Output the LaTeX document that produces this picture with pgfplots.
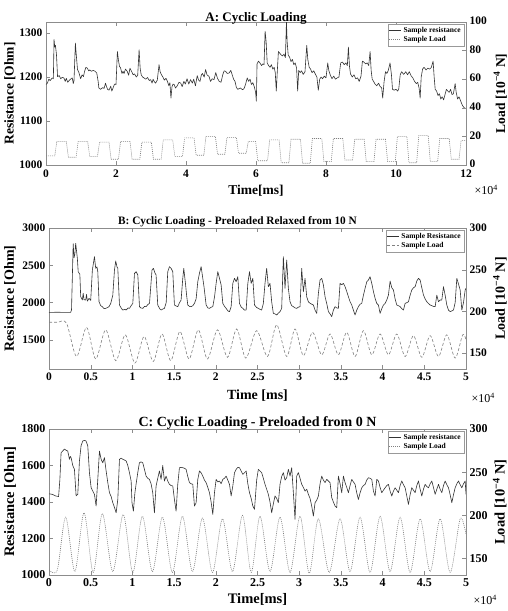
\documentclass[border=0pt]{standalone}
\usepackage{pgfplots}
\pgfplotsset{compat=1.18}
\usepackage{fontspec}
\setmainfont{Liberation Serif}

\pgfplotsset{
  every axis/.append style={
    scale only axis,
    axis line style={black!45},
    tick style={black!45, line width=0.4pt},
    major tick length=4pt,
    tick align=inside,
    /pgf/number format/assume math mode=true,
    /pgf/number format/1000 sep={},
    ticklabel style={font=\bfseries\fontsize{11.5}{12}\selectfont},
  },
  lefty/.style={ylabel style={at={(axis description cs:#1,0.5)}, anchor=north, inner sep=0pt}},
  righty/.style={ylabel style={at={(axis description cs:#1,0.5)}, anchor=south, inner sep=0pt}},
  res/.style={black!80, line width=0.6pt, line join=round},
  ldot/.style={black!50, line width=0.6pt, dash pattern=on 1pt off 1pt},
  ldash/.style={black!50, line width=0.6pt, dash pattern=on 3pt off 2pt},
  leg/.style={legend style={at={(0.995,0.985)}, anchor=north east, draw=black!40,
      font=\bfseries\fontsize{7.5}{8}\selectfont, inner sep=1pt, row sep=-2pt,
      cells={anchor=west}, fill=white}},
}
\pgfplotsset{legend image code/.code={\draw[#1] (0pt,0pt) -- (12pt,0pt);}}

\begin{document}
\begin{tikzpicture}
\useasboundingbox (0,0) rectangle (508pt,-611pt);

% ---------------- A ----------------
\begin{axis}[at={(46pt,-165pt)}, anchor=south west, width=420pt, height=143pt,
  xmin=0, xmax=12, xtick={0,2,4,6,8,10,12}, xticklabel style={yshift=-1.5pt},
  ymin=1000, ymax=1325, ytick={1000,1100,1200,1300}, ytick pos=left,
  title={A: Cyclic Loading}, title style={font=\bfseries\fontsize{13}{14}\selectfont, yshift=-12pt},
  xlabel={Time[ms]}, ylabel={Resistance [Ohm]}, lefty=-0.1,
  label style={font=\bfseries\fontsize{13.5}{14}\selectfont}]
\addplot[res] coordinates {
(0,1183) (0.04,1186) (0.08,1195) (0.12,1192) (0.18,1198) (0.21,1196) (0.23,1285) (0.25,1268) (0.27,1272) (0.30,1250) (0.33,1201) (0.38,1203) (0.42,1196) (0.46,1199) (0.51,1198) (0.55,1190) (0.58,1197) (0.62,1188) (0.66,1192) (0.70,1195) (0.75,1198) (0.78,1185) (0.80,1192) (0.84,1277) (0.86,1255) (0.90,1217) (0.94,1210) (0.99,1196) (1.03,1205) (1.07,1201) (1.10,1212) (1.14,1222) (1.18,1220) (1.22,1214) (1.25,1216) (1.30,1213) (1.35,1215) (1.40,1213) (1.45,1209) (1.49,1190) (1.51,1175) (1.56,1172) (1.62,1176) (1.66,1174) (1.70,1186) (1.73,1178) (1.76,1172) (1.80,1170) (1.85,1179) (1.88,1168) (1.92,1176) (1.96,1184) (2.00,1183) (2.04,1258) (2.07,1238) (2.10,1224) (2.13,1221) (2.17,1208) (2.20,1213) (2.23,1208) (2.27,1218) (2.32,1213) (2.36,1204) (2.40,1220) (2.45,1212) (2.49,1205) (2.53,1207) (2.58,1200) (2.62,1204) (2.66,1262) (2.69,1220) (2.72,1205) (2.76,1200) (2.80,1198) (2.85,1195) (2.90,1199) (2.95,1192) (2.99,1194) (3.03,1186) (3.06,1195) (3.09,1190) (3.13,1186) (3.18,1193) (3.23,1228) (3.26,1212) (3.30,1205) (3.34,1200) (3.38,1193) (3.43,1197) (3.47,1190) (3.51,1180) (3.54,1187) (3.57,1152) (3.60,1178) (3.63,1184) (3.66,1183) (3.70,1175) (3.75,1180) (3.80,1188) (3.85,1186) (3.89,1178) (3.94,1190) (3.98,1184) (4.03,1196) (4.08,1184) (4.13,1194) (4.18,1186) (4.22,1195) (4.27,1180) (4.32,1203) (4.36,1193) (4.40,1190) (4.44,1205) (4.47,1208) (4.52,1200) (4.56,1217) (4.60,1205) (4.66,1201) (4.70,1190) (4.75,1196) (4.80,1194) (4.85,1210) (4.90,1197) (4.95,1190) (5.00,1188) (5.05,1205) (5.09,1214) (5.13,1213) (5.18,1208) (5.23,1209) (5.28,1215) (5.32,1205) (5.36,1195) (5.40,1190) (5.44,1176) (5.48,1172) (5.55,1175) (5.62,1171) (5.66,1174) (5.70,1183) (5.75,1198) (5.79,1190) (5.83,1195) (5.87,1183) (5.91,1187) (5.95,1178) (5.99,1165) (6.01,1145) (6.03,1230) (6.07,1236) (6.11,1232) (6.16,1226) (6.20,1230) (6.23,1228)
(6.26,1304) (6.29,1280) (6.32,1232) (6.36,1226) (6.40,1222) (6.44,1228) (6.48,1218) (6.52,1222) (6.55,1210) (6.58,1168) (6.61,1215) (6.64,1258) (6.68,1254) (6.72,1250) (6.76,1248) (6.80,1252) (6.84,1244) (6.87,1325) (6.89,1280) (6.92,1250) (6.96,1245) (7.00,1235) (7.04,1240) (7.08,1228) (7.12,1232) (7.16,1220) (7.19,1168) (7.22,1215) (7.26,1210) (7.30,1214) (7.35,1206) (7.40,1212) (7.45,1272) (7.48,1240) (7.52,1222) (7.56,1218) (7.60,1210) (7.65,1214) (7.70,1206) (7.74,1200) (7.78,1170) (7.82,1195) (7.86,1200) (7.90,1196) (7.95,1202) (8.00,1198) (8.05,1232) (8.08,1215) (8.12,1205) (8.17,1196) (8.22,1202) (8.27,1195) (8.32,1198) (8.37,1200) (8.42,1232) (8.47,1234) (8.52,1228) (8.57,1232) (8.61,1226) (8.64,1268) (8.67,1225) (8.70,1207) (8.75,1200) (8.80,1205) (8.85,1196) (8.90,1198) (8.95,1190) (9.00,1202) (9.04,1236) (9.08,1234) (9.13,1230) (9.18,1232) (9.22,1226) (9.26,1258) (9.29,1215) (9.32,1195) (9.36,1190) (9.40,1184) (9.45,1180) (9.50,1186) (9.55,1178) (9.59,1176) (9.62,1152) (9.66,1190) (9.70,1212) (9.74,1208) (9.78,1215) (9.83,1232) (9.87,1205) (9.90,1172) (9.95,1170) (10.00,1172) (10.05,1168) (10.08,1174) (10.12,1205) (10.16,1212) (10.22,1206) (10.28,1212) (10.33,1205) (10.38,1212) (10.43,1203) (10.48,1198) (10.53,1190) (10.58,1185) (10.62,1188) (10.66,1175) (10.69,1152) (10.72,1200) (10.76,1218) (10.80,1222) (10.86,1216) (10.91,1220) (10.96,1218) (11.01,1222) (11.06,1236) (11.09,1200) (11.12,1172) (11.16,1168) (11.20,1158) (11.24,1162) (11.28,1150) (11.32,1155) (11.36,1148) (11.40,1160) (11.44,1172) (11.48,1168) (11.52,1165) (11.56,1172) (11.60,1160) (11.64,1162) (11.69,1185) (11.72,1165) (11.76,1150) (11.80,1155) (11.85,1145) (11.90,1135) (11.95,1130) (12.00,1128)
};
\end{axis}
\begin{axis}[at={(46pt,-165pt)}, anchor=south west, width=420pt, height=143pt,
  xmin=0, xmax=12, axis x line=none, axis y line*=right,
  ymin=0, ymax=100, ytick={0,20,40,60,80,100}, yticklabel style={yshift=1pt},
  ylabel={Load [10\textsuperscript{−4} N]}, righty=1.098,
  label style={font=\bfseries\fontsize{13.5}{14}\selectfont}, leg]
\addlegendimage{res}
\addplot[ldot] coordinates {
(0,6.4) (0.25,6.4) (0.31,16.5) (0.58,16.5) (0.64,5.4)
(0.86,5.4) (0.92,16.5) (1.19,16.5) (1.25,6.0)
(1.47,6.0) (1.53,16) (1.80,16) (1.86,4.0)
(2.07,4.0) (2.13,16.5) (2.40,16.5) (2.46,4.0)
(2.68,4.0) (2.74,16) (3.01,16) (3.07,4.0)
(3.29,4.0) (3.35,17.6) (3.62,17.6) (3.68,6.0)
(3.90,6.0) (3.96,19) (4.23,19) (4.29,6.8)
(4.51,6.8) (4.57,20) (4.84,20) (4.90,7.5)
(5.11,7.5) (5.17,19.3) (5.44,19.3) (5.50,8.2)
(5.72,8.2) (5.78,16.5) (5.99,16.5) (6.05,3.0)
(6.33,3.0) (6.39,17.6) (6.66,17.6) (6.72,1.6)
(6.94,1.6) (7.00,18) (7.27,18) (7.33,1.2)
(7.55,1.2) (7.61,18.5) (7.88,18.5) (7.94,2.4)
(8.15,2.4) (8.21,18.5) (8.48,18.5) (8.54,3.5)
(8.76,3.5) (8.82,18) (9.09,18) (9.15,2.4)
(9.37,2.4) (9.43,18) (9.70,18) (9.76,2.4)
(9.98,2.4) (10.04,20) (10.31,20) (10.37,1.6)
(10.59,1.6) (10.65,20.5) (10.92,20.5) (10.98,2.4)
(11.19,2.4) (11.25,18.5) (11.52,18.5) (11.58,4.0)
(11.80,4.0) (11.86,17) (12,17)
};
\legend{Sample resistance, Sample Load}
\end{axis}
\node[anchor=west, font=\fontsize{12}{12}\selectfont] at (471pt,-190pt) {×10\textsuperscript{4}};

% ---------------- B ----------------
\begin{axis}[at={(49pt,-369pt)}, anchor=south west, width=417pt, height=141pt,
  xmin=0, xmax=5, xtick={0,0.5,1,1.5,2,2.5,3,3.5,4,4.5,5},
  ymin=1112, ymax=3000, ytick={1500,2000,2500,3000}, ytick pos=left,
  title={B: Cyclic Loading - Preloaded Relaxed from 10 N},
  title style={font=\bfseries\fontsize{11.3}{12}\selectfont, xshift=-20pt, yshift=-9pt},
  xlabel={Time [ms]}, xlabel style={yshift=-3pt}, ylabel={Resistance [Ohm]}, lefty=-0.108,
  label style={font=\bfseries\fontsize{14}{15}\selectfont}]
\addplot[res] coordinates {
(0,1870) (0.10,1872) (0.20,1870) (0.26,1870) (0.27,1905) (0.29,2790) (0.30,2600) (0.31,2650) (0.32,2795) (0.34,2594) (0.35,2415) (0.37,2380) (0.38,2080) (0.40,2036) (0.41,2125) (0.42,2040) (0.44,2036) (0.45,2110) (0.46,2020) (0.48,2058) (0.50,2030) (0.52,2438) (0.545,2616) (0.56,2460) (0.575,2480) (0.585,2415) (0.60,2013) (0.62,1960) (0.64,1946) (0.66,1920) (0.68,1924) (0.70,1935) (0.72,1947) (0.74,1990) (0.765,2100) (0.785,2438) (0.80,2558) (0.815,2480) (0.825,2460) (0.845,1969) (0.87,1920) (0.885,1902) (0.91,1910) (0.925,1902) (0.95,1930) (0.965,1924) (0.985,1960) (1.005,1991) (1.025,2393) (1.045,2415) (1.065,2371) (1.085,1947) (1.10,1930) (1.125,1924) (1.145,1950) (1.165,1947) (1.185,1975) (1.205,1991) (1.235,2437) (1.252,2460) (1.27,2400) (1.284,2371) (1.304,1969) (1.33,1915) (1.344,1902) (1.365,1915) (1.384,1924) (1.405,2000) (1.424,2415) (1.444,2482) (1.464,2460) (1.484,2415) (1.504,1969) (1.525,1955) (1.544,1947) (1.565,2000) (1.584,2036) (1.604,2326) (1.616,2460) (1.636,2259) (1.65,2100) (1.664,1969) (1.685,1950) (1.704,1947) (1.725,1960) (1.744,1991) (1.764,2050) (1.784,2281) (1.805,2400) (1.824,2482) (1.844,2326) (1.86,2200) (1.884,1969) (1.905,1930) (1.924,1924) (1.945,1940) (1.964,1947) (1.985,2080) (2.004,2259) (2.024,2415) (2.044,2326) (2.064,2237) (2.084,1991) (2.105,1950) (2.124,1924) (2.145,1890) (2.164,1880) (2.184,1947) (2.204,2259) (2.224,2326) (2.244,2281) (2.264,2348) (2.284,1991) (2.305,1940) (2.324,1924) (2.344,1900) (2.364,1902) (2.384,2259) (2.404,2415) (2.424,2259) (2.444,2326) (2.464,1969)
(2.49,1935) (2.51,1924) (2.53,1910) (2.55,1902) (2.57,1990) (2.59,2259) (2.61,2460) (2.63,2214) (2.65,2259) (2.67,2013) (2.69,1857) (2.71,1850) (2.73,1835) (2.75,1860) (2.77,1880) (2.79,1924) (2.81,2616) (2.83,2192) (2.85,2571) (2.87,2192) (2.89,2013) (2.91,1960) (2.93,1947) (2.95,1930) (2.97,1924) (2.99,1940) (3.01,1947) (3.03,2460) (3.05,2147) (3.07,2326) (3.09,2080) (3.11,2013) (3.13,1991) (3.15,1980) (3.17,1969) (3.19,1900) (3.21,1857) (3.23,2125) (3.25,2304) (3.27,2326) (3.29,2237) (3.31,2080) (3.33,1990) (3.35,1880) (3.37,1850) (3.39,1813) (3.41,1900) (3.43,1947) (3.45,1930) (3.47,1924) (3.49,2259) (3.51,2240) (3.53,2259) (3.55,2214) (3.57,2150) (3.59,2080) (3.61,2013) (3.63,1969) (3.65,1900) (3.67,1835) (3.69,1900) (3.71,1947) (3.73,1980) (3.75,1991) (3.77,2100) (3.79,2192) (3.81,2280) (3.83,2304) (3.85,2348) (3.87,2259) (3.89,2150) (3.91,2058) (3.93,1990) (3.95,1969) (3.97,1857) (3.99,1920) (4.01,1969) (4.03,1990) (4.05,2036) (4.07,2103) (4.09,2290) (4.11,2200) (4.13,2170) (4.15,2050) (4.17,1969) (4.19,1960) (4.21,1947) (4.23,1920) (4.25,1902) (4.27,1991) (4.29,2000) (4.31,2013) (4.33,2100) (4.35,2170) (4.37,2200) (4.39,2214) (4.41,2290) (4.43,2326) (4.45,2304) (4.47,2200) (4.49,2103) (4.51,2050) (4.53,2013) (4.55,1990) (4.57,1969) (4.59,1960) (4.61,1950) (4.63,1947) (4.65,2100) (4.67,2013) (4.69,2036) (4.71,2036) (4.73,2214) (4.75,2100) (4.77,1969) (4.79,1900) (4.81,1880) (4.83,1890) (4.85,1902) (4.87,2000) (4.89,2326) (4.91,2250) (4.93,2170) (4.95,1902) (4.97,2000) (4.99,2170) (5.00,2192)
};
\end{axis}
\begin{axis}[at={(49pt,-369pt)}, anchor=south west, width=417pt, height=141pt,
  xmin=0, xmax=5, axis x line=none, axis y line*=right,
  ymin=131, ymax=300, ytick={150,200,250,300},
  ylabel={Load [10\textsuperscript{−4} N]}, righty=1.098,
  label style={font=\bfseries\fontsize{14}{15}\selectfont}, leg]
\addlegendimage{res}
\addplot[ldash, smooth] coordinates {
(0,187) (0.10,187) (0.21,186) (0.33,146) (0.45,181) (0.56,143) (0.68,178) (0.80,141) (0.915,172) (1.03,138) (1.14,170) (1.25,140) (1.355,173) (1.46,141) (1.57,176) (1.68,143) (1.79,178) (1.90,143) (2.02,178) (2.14,145) (2.25,179) (2.36,144) (2.49,177) (2.62,146) (2.73,184) (2.85,146) (2.95,179) (3.05,147) (3.16,175) (3.27,148) (3.37,173) (3.47,148) (3.57,175) (3.67,146) (3.77,177) (3.87,148) (3.97,173) (4.07,148) (4.17,173) (4.27,146) (4.37,171) (4.47,145) (4.57,171) (4.67,146) (4.77,172) (4.87,144) (4.96,172) (5.0,166)
};
\legend{Sample Resistance, Sample Load}
\end{axis}
\node[anchor=west, font=\fontsize{12}{12}\selectfont] at (468pt,-398pt) {×10\textsuperscript{4}};

% ---------------- C ----------------
\begin{axis}[at={(49pt,-575pt)}, anchor=south west, width=417pt, height=146pt,
  xmin=0, xmax=5, xtick={0,0.5,1,1.5,2,2.5,3,3.5,4,4.5,5},
  ymin=1000, ymax=1800, ytick={1000,1200,1400,1600,1800}, ytick pos=left,
  title={C: Cyclic Loading - Preloaded from 0 N},
  title style={font=\bfseries\fontsize{14}{15}\selectfont, yshift=-10pt},
  xlabel={Time[ms]}, ylabel={Resistance [Ohm]}, lefty=-0.108,
  label style={font=\bfseries\fontsize{14.5}{15}\selectfont},
  ticklabel style={font=\bfseries\fontsize{12}{13}\selectfont}]
\addplot[res] coordinates {
(0,1445) (0.04,1442) (0.08,1433) (0.115,1430) (0.13,1520) (0.145,1670) (0.165,1680) (0.185,1690) (0.20,1685) (0.225,1679) (0.245,1634) (0.255,1650) (0.265,1643) (0.285,1600) (0.305,1579) (0.325,1434) (0.345,1442) (0.365,1625) (0.385,1710) (0.405,1734) (0.425,1738) (0.445,1734) (0.465,1707) (0.485,1561) (0.505,1479) (0.525,1460) (0.545,1442) (0.565,1378) (0.585,1524) (0.605,1679) (0.625,1634) (0.645,1615) (0.665,1643) (0.685,1570) (0.705,1506) (0.725,1451) (0.745,1430) (0.765,1396) (0.785,1370) (0.805,1341) (0.825,1414) (0.845,1634) (0.865,1640) (0.885,1634) (0.905,1630) (0.925,1625) (0.945,1600) (0.965,1560) (0.985,1515) (0.995,1396) (1.012,1350) (1.03,1450) (1.044,1497) (1.064,1560) (1.084,1615) (1.104,1620) (1.124,1615) (1.144,1580) (1.164,1542) (1.184,1530) (1.204,1524) (1.224,1500) (1.244,1451) (1.264,1341) (1.284,1488) (1.304,1530) (1.324,1570) (1.344,1524) (1.364,1600) (1.384,1515) (1.404,1542) (1.424,1515) (1.444,1497) (1.464,1490) (1.484,1488) (1.504,1414) (1.524,1350) (1.544,1497) (1.564,1588) (1.584,1590) (1.604,1588) (1.624,1585) (1.644,1579) (1.664,1540) (1.684,1506) (1.704,1500) (1.724,1497) (1.744,1378) (1.764,1396) (1.784,1524) (1.804,1570) (1.824,1560) (1.844,1542) (1.864,1520) (1.884,1506) (1.904,1480) (1.924,1451) (1.944,1400) (1.964,1332) (1.984,1450) (2.004,1524) (2.024,1510) (2.044,1515) (2.064,1500) (2.084,1524) (2.104,1530) (2.124,1542) (2.144,1520) (2.164,1497) (2.184,1433) (2.204,1488) (2.224,1560) (2.244,1579) (2.264,1590) (2.284,1588) (2.304,1570) (2.324,1551) (2.344,1560) (2.364,1570) (2.384,1500) (2.404,1451) (2.424,1420) (2.444,1378) (2.464,1360) (2.49,1520)
(2.51,1579) (2.53,1570) (2.55,1561) (2.57,1530) (2.59,1497) (2.61,1470) (2.63,1442) (2.65,1400) (2.67,1341) (2.69,1390) (2.71,1433) (2.73,1420) (2.75,1396) (2.77,1497) (2.79,1540) (2.81,1561) (2.83,1520) (2.85,1533) (2.87,1579) (2.89,1542) (2.91,1588) (2.93,1451) (2.95,1305) (2.97,1542) (2.99,1561) (3.01,1530) (3.03,1497) (3.05,1480) (3.07,1460) (3.09,1470) (3.11,1442) (3.13,1420) (3.15,1378) (3.17,1323) (3.19,1396) (3.21,1410) (3.23,1433) (3.25,1500) (3.27,1542) (3.29,1520) (3.31,1506) (3.33,1524) (3.35,1515) (3.37,1506) (3.39,1424) (3.41,1400) (3.43,1378) (3.45,1369) (3.47,1542) (3.49,1500) (3.51,1451) (3.53,1542) (3.55,1506) (3.57,1480) (3.59,1451) (3.61,1490) (3.63,1524) (3.65,1510) (3.67,1497) (3.69,1450) (3.71,1414) (3.73,1450) (3.75,1478) (3.77,1490) (3.79,1497) (3.81,1520) (3.83,1533) (3.85,1530) (3.87,1524) (3.89,1460) (3.91,1433) (3.93,1524) (3.95,1515) (3.97,1480) (3.99,1451) (4.01,1465) (4.03,1478) (4.05,1490) (4.07,1497) (4.09,1460) (4.11,1433) (4.13,1460) (4.15,1478) (4.17,1465) (4.19,1451) (4.21,1490) (4.23,1515) (4.25,1495) (4.27,1478) (4.29,1433) (4.31,1387) (4.33,1440) (4.35,1478) (4.37,1465) (4.39,1451) (4.41,1490) (4.43,1515) (4.45,1470) (4.47,1433) (4.49,1470) (4.51,1497) (4.53,1485) (4.55,1478) (4.57,1500) (4.59,1515) (4.61,1480) (4.63,1442) (4.65,1470) (4.67,1497) (4.69,1470) (4.71,1451) (4.73,1490) (4.75,1515) (4.77,1495) (4.79,1478) (4.81,1440) (4.83,1396) (4.85,1440) (4.87,1478) (4.89,1500) (4.91,1515) (4.93,1495) (4.95,1478) (4.97,1500) (4.99,1515) (5.00,1442)
};
\end{axis}
\begin{axis}[at={(49pt,-575pt)}, anchor=south west, width=417pt, height=146pt,
  xmin=0, xmax=5, axis x line=none, axis y line*=right,
  ymin=131, ymax=300, ytick={150,200,250,300},
  ylabel={Load [10\textsuperscript{−4} N]}, righty=1.098,
  label style={font=\bfseries\fontsize{14.5}{15}\selectfont},
  ticklabel style={font=\bfseries\fontsize{12}{13}\selectfont}, leg]
\addlegendimage{res}
\addplot[ldot, smooth] coordinates {
(0,137) (0.10,137) (0.20,198) (0.31,135) (0.42,203) (0.53,134) (0.64,202) (0.765,135) (0.89,201) (1.005,134) (1.12,199) (1.24,135) (1.36,198) (1.48,134) (1.60,199) (1.72,135) (1.84,197) (1.96,134) (2.08,196) (2.20,135) (2.32,200) (2.425,134) (2.53,199) (2.65,135) (2.77,198) (2.89,134) (3.01,199) (3.12,133) (3.23,196) (3.36,134) (3.49,196) (3.61,135) (3.73,198) (3.85,134) (3.97,199) (4.09,135) (4.21,198) (4.33,134) (4.45,196) (4.57,135) (4.69,196) (4.81,134) (4.93,196) (5.0,178)
};
\legend{Sample resistance, Sample Load}
\end{axis}
\node[anchor=west, font=\fontsize{12}{12}\selectfont] at (470pt,-600pt) {×10\textsuperscript{4}};
\end{tikzpicture}
\end{document}
